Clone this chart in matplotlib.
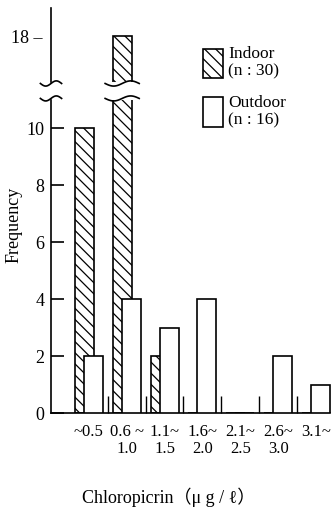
import numpy as np
import matplotlib as mpl
mpl.use('Agg')
import matplotlib.pyplot as plt
from matplotlib.patches import Patch

plt.rcParams['font.family'] = ['Liberation Serif', 'DejaVu Serif', 'Noto Sans CJK JP']
plt.rcParams['hatch.linewidth'] = 0.9

# concentration classes (ug / l)
classes = ['~0.5', '0.6 ~\n1.0', '1.1~\n1.5', '1.6~\n2.0', '2.1~\n2.5', '2.6~\n3.0', '3.1~']
indoor = [10, 18, 2, 0, 0, 0, 0]
outdoor = [2, 4, 3, 4, 0, 2, 1]
lower_ticks = [0, 2, 4, 6, 8, 10]
upper_ticks = [18]

W, H = 333, 507
fig = plt.figure(figsize=(W / 100, H / 100), dpi=100)

left, right = 51 / W, 1.0
ax = fig.add_axes([left, (H - 413) / H, right - left, 313 / H])
axu = fig.add_axes([left, (H - 82) / H, right - left, 74 / H])

x = np.arange(len(classes))
bw = 0.5
for a in (ax, axu):
    a.bar(x - 0.12, indoor, width=bw, facecolor='white', edgecolor='black',
          hatch='\\\\\\', linewidth=1.2, zorder=2)
    a.bar(x + 0.12, outdoor, width=bw, facecolor='white', edgecolor='black',
          linewidth=1.2, zorder=3)
    a.set_xlim(-1.0, 6.45)
    for s in ('top', 'right'):
        a.spines[s].set_visible(False)
    a.spines['left'].set_linewidth(1.2)

ax.set_ylim(0, 11.0)
axu.set_ylim(16.4, 19.0)
axu.spines['bottom'].set_visible(False)
axu.set_xticks([])
ax.spines['bottom'].set_linewidth(1.2)
ax.spines['bottom'].set_bounds(-1.0, 6.37)

ax.set_yticks(lower_ticks)
ax.tick_params(axis='y', direction='in', length=9, width=1.2, pad=4.5, labelsize=13)
axu.set_yticks(upper_ticks, [f'{t} \u2013' for t in upper_ticks])
axu.tick_params(axis='y', length=0, pad=6, labelsize=13)

ax.set_xticks(x, classes)
ax.set_xticks(x[:-1] + 0.5, minor=True)
ax.tick_params(axis='x', which='major', length=0, pad=8, labelsize=12)
ax.tick_params(axis='x', which='minor', direction='in', length=12, width=1.0)
for lab in ax.get_xticklabels():
    lab.set_linespacing(1.1)

ax.set_ylabel('Frequency', fontsize=13)
ax.yaxis.set_label_coords(-0.10, 0.6)
fig.text(169 / W, 1 - 497 / H, 'Chloropicrin\uff08\u03bc g / \u2113\uff09',
         ha='center', va='center', fontsize=13)


def wave(a, xc, half, yc, amp):
    t = np.linspace(-1, 1, 60)
    a.plot(xc + half * t, yc + amp * np.sin(np.pi * t), color='black', lw=1.2,
           transform=a.get_xaxis_transform(), clip_on=False, zorder=5)


# break marks on the axis and on the tall bar
wave(ax, -1.0, 0.28, 1.005, 0.008)
wave(axu, -1.0, 0.28, -0.02, 0.035)
wave(ax, 1 - 0.12, 0.45, 1.005, 0.008)
wave(axu, 1 - 0.12, 0.45, -0.02, 0.035)

handles = [Patch(facecolor='white', edgecolor='black', hatch='\\\\\\', lw=1.2),
           Patch(facecolor='white', edgecolor='black', lw=1.2)]
leg = fig.legend(handles, ['Indoor\n(n : 30)', 'Outdoor\n(n : 16)'],
                 loc='upper left', bbox_to_anchor=(203 / W, 1 - 46 / H),
                 frameon=False, borderpad=0, borderaxespad=0, fontsize=12.5,
                 handlelength=1.15, handleheight=2.2, handletextpad=0.3,
                 labelspacing=0.9)
for t in leg.get_texts():
    t.set_linespacing(1.1)

fig.savefig('out.png', dpi=100)
